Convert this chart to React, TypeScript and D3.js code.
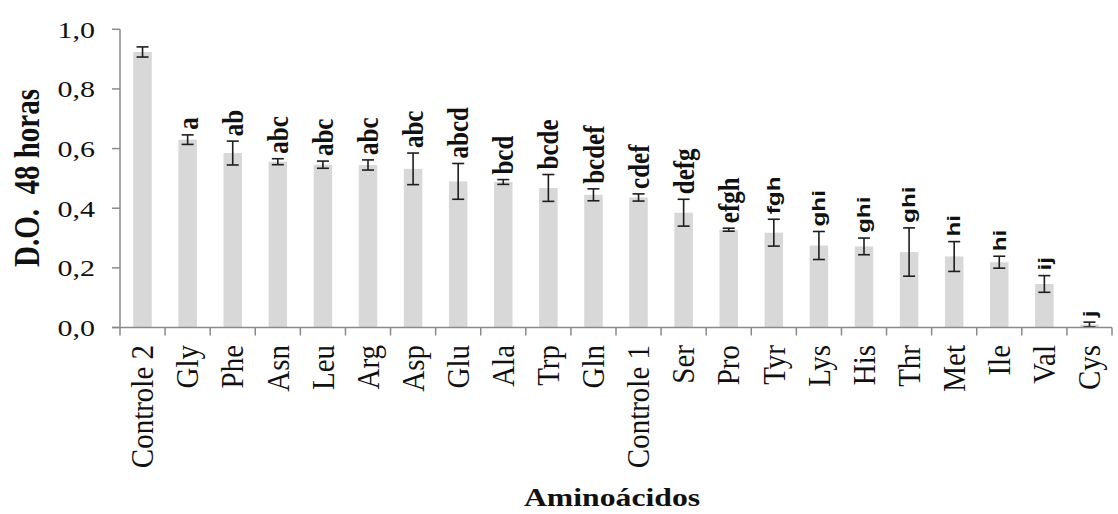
import React from "react";
import * as d3 from "d3";

const categories = ["Controle 2","Gly","Phe","Asn","Leu","Arg","Asp","Glu","Ala","Trp","Gln","Controle 1","Ser","Pro","Tyr","Lys","His","Thr","Met","Ile","Val","Cys"];
const means = [0.924,0.630,0.585,0.556,0.546,0.545,0.532,0.490,0.488,0.468,0.445,0.436,0.385,0.328,0.318,0.275,0.272,0.253,0.238,0.219,0.146,0.010];
const errors = [0.017,0.016,0.040,0.010,0.012,0.017,0.053,0.060,0.008,0.045,0.020,0.012,0.045,0.005,0.045,0.047,0.028,0.081,0.050,0.020,0.028,0.008];
const letters = ["","a","ab","abc","abc","abc","abc","abcd","bcd","bcde","bcdef","cdef","defg","efgh","fgh","ghi","ghi","ghi","hi","hi","ij","j"];
const yTicks = [0, 0.2, 0.4, 0.6, 0.8, 1.0];

const W = 1118, H = 514;
const SERIF = "'Liberation Serif', 'Times New Roman', serif";
const SANS = "'Liberation Sans', Arial, sans-serif";

export default function App() {
  const x = d3.scaleBand<string>().domain(categories).range([120, 1112]).paddingInner(0).paddingOuter(0);
  const y = d3.scaleLinear().domain([0, 1]).range([327.5, 29.3]);
  const bw = x.bandwidth();
  const barW = bw * 0.41;
  const fmt = (v: number) => d3.format(".1f")(v).replace(".", ",");
  const axisColor = "#8a8a8a";
  const boundaries = d3.range(categories.length + 1).map(i => 120 + i * bw);

  return (
    <svg width={W} height={H} style={{ position: "absolute", left: 0, top: 0, background: "#fff" }}>
      {/* bars */}
      {categories.map((c, i) => {
        const cx = (x(c) as number) + bw / 2;
        return (
          <rect key={"b" + c} x={cx - barW / 2} y={y(means[i])} width={barW} height={y(0) - y(means[i])} fill="#d8d8d8" />
        );
      })}
      {/* error bars */}
      {categories.map((c, i) => {
        const cx = (x(c) as number) + bw / 2;
        const top = y(means[i] + errors[i]);
        const bot = y(Math.max(0, means[i] - errors[i]));
        return (
          <g key={"e" + c} stroke="#1e1e1e" strokeWidth={1.6}>
            <line x1={cx} x2={cx} y1={top} y2={bot} />
            <line x1={cx - 6} x2={cx + 6} y1={top} y2={top} />
            <line x1={cx - 6} x2={cx + 6} y1={bot} y2={bot} />
          </g>
        );
      })}
      {/* significance letters */}
      {categories.map((c, i) => {
        if (!letters[i]) return null;
        const cx = (x(c) as number) + bw / 2;
        const top = y(means[i] + errors[i]) - 5;
        const sans = i >= 14;
        return (
          <g key={"l" + c} transform={sans ? `translate(${cx},${top}) rotate(-90) scale(1.35,1)` : `translate(${cx},${top}) scale(1.15,1) rotate(-90)`}>
            <text x={0} y={0} dy="0.35em" textAnchor="start" fontFamily={sans ? SANS : SERIF} fontWeight="bold" fontSize={sans ? 18 : 25} fill="#111">
              {letters[i]}
            </text>
          </g>
        );
      })}
      {/* y axis */}
      <line x1={120} x2={120} y1={y(1)} y2={y(0)} stroke={axisColor} strokeWidth={1.5} />
      {yTicks.map(t => (
        <g key={"yt" + t}>
          <line x1={112} x2={120} y1={y(t)} y2={y(t)} stroke={axisColor} strokeWidth={1.5} />
          <g transform={`translate(95,${y(t)}) scale(1.25,1)`}>
            <text x={0} y={0} dy="0.35em" textAnchor="end" fontFamily={SERIF} fontSize={24} fill="#111">{fmt(t)}</text>
          </g>
        </g>
      ))}
      {/* x axis */}
      <line x1={112} x2={1112} y1={y(0)} y2={y(0)} stroke={axisColor} strokeWidth={1.5} />
      {boundaries.map((b, i) => (
        <line key={"xt" + i} x1={b} x2={b} y1={y(0)} y2={y(0) + 8} stroke={axisColor} strokeWidth={1.5} />
      ))}
      {categories.map(c => {
        const cx = (x(c) as number) + bw / 2;
        return (
          <g key={"xl" + c} transform={`translate(${cx},345) scale(1.12,1) rotate(-90)`}>
            <text x={0} y={0} dy="0.33em" textAnchor="end" fontFamily={SERIF} fontSize={29} fill="#111">{c}</text>
          </g>
        );
      })}
      {/* axis titles */}
      <g transform={`translate(612,506) scale(1.22,1)`}>
        <text x={0} y={0} textAnchor="middle" fontFamily={SERIF} fontWeight="bold" fontSize={26} fill="#111">Aminoácidos</text>
      </g>
      <g transform={`translate(26,178) scale(1.25,1) rotate(-90)`}>
        <text x={0} y={0} dy="0.35em" textAnchor="middle" fontFamily={SERIF} fontWeight="bold" fontSize={29} fill="#111" style={{ whiteSpace: "pre" }}>{"D.O.  48 horas"}</text>
      </g>
    </svg>
  );
}
